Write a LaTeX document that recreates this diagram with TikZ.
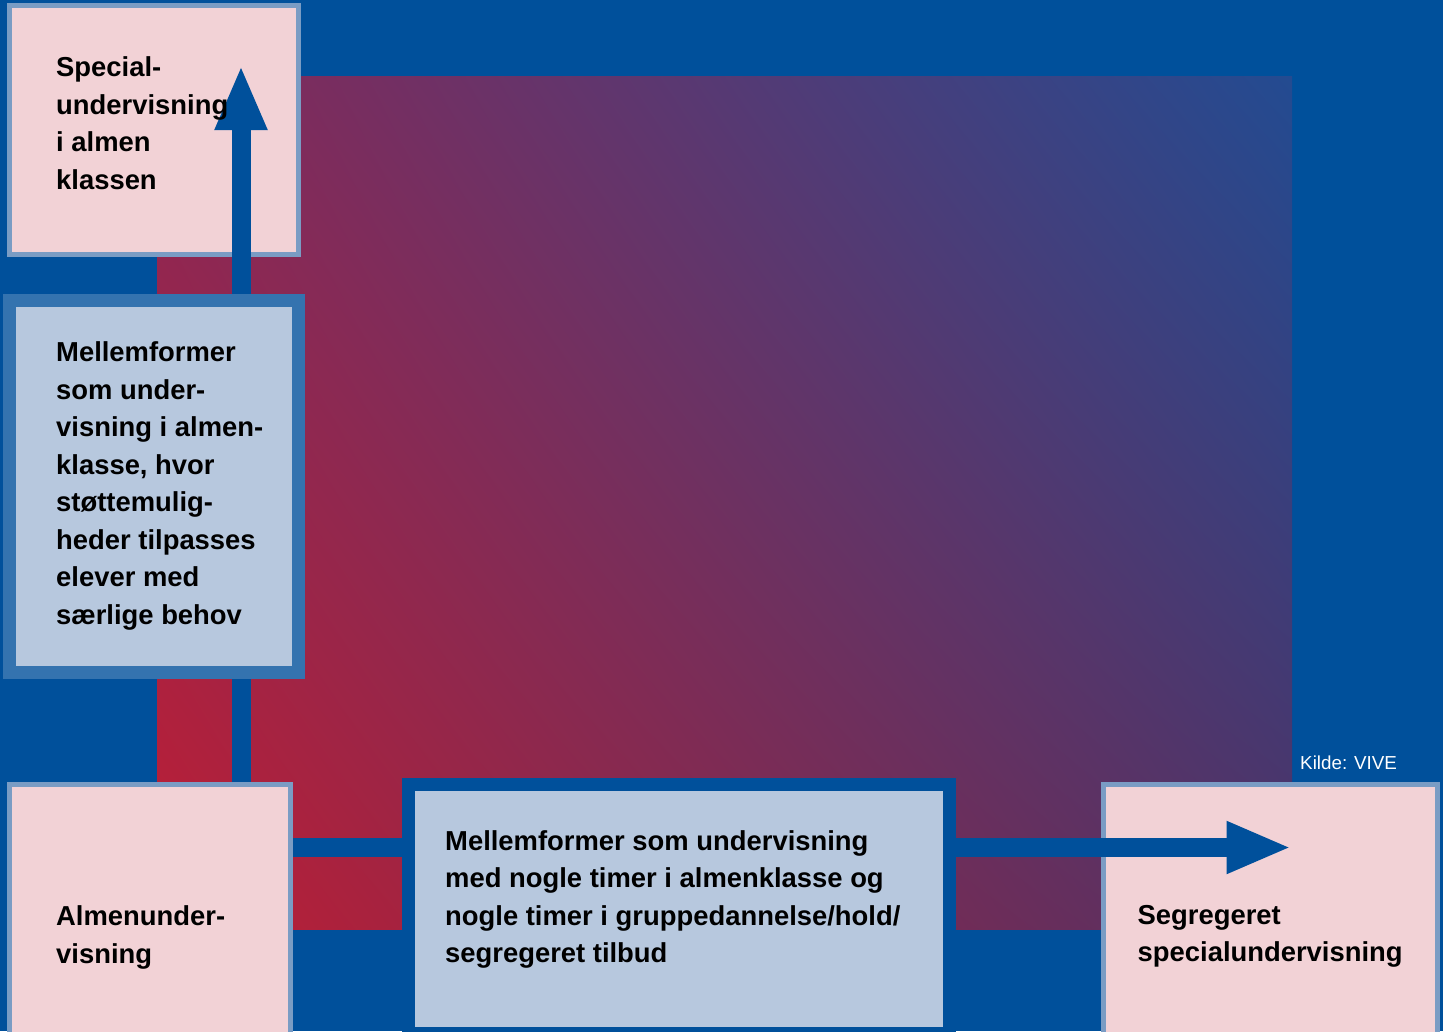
\documentclass[tikz,border=0pt]{standalone}
\usepackage{fontspec}
\setmainfont{Liberation Sans}
\usepackage{xcolor}
\usetikzlibrary{arrows.meta,shadings}

\definecolor{baggrund}{RGB}{0,80,155}
\definecolor{lyserod}{RGB}{242,210,214}
\definecolor{kantlys}{RGB}{122,156,196}
\definecolor{lysblaa}{RGB}{183,200,222}
\definecolor{kantmellem}{RGB}{52,115,175}
\definecolor{gradrod}{RGB}{190,30,52}
\definecolor{gradblaa}{RGB}{35,75,145}
\definecolor{gradvenstre}{RGB}{135,40,87}
\definecolor{gradhojre}{RGB}{80,50,102}

\tikzset{
	kasse/.style={anchor=north west, inner sep=0pt},
	lyskasse/.style={kasse, draw=kantlys, line width=5pt, fill=lyserod},
	blaakasse/.style={kasse, line width=13pt, fill=lysblaa},
	tekst/.style={anchor=north west, inner sep=0pt, align=left, text=black,
		font=\bfseries\fontsize{27.4}{37.5}\selectfont},
	pil/.style={draw=baggrund, line width=19pt, -{Triangle[length=65pt,width=48pt]}}
}

\begin{document}
\begin{tikzpicture}[x=1pt,y=-1pt]
		% Baggrund
		\useasboundingbox (0,0) rectangle (1443,1031);
		\clip (0,0) rectangle (1443,1031);
		\fill[baggrund] (0,0) rectangle (1443,1031);
		\shade[lower left=gradrod, upper right=gradblaa, upper left=gradvenstre, lower right=gradhojre]
			(157,76) rectangle (1292,929);

		% Punkter
		\coordinate (optop) at (241,65);
		\coordinate (hojre) at (1291.5,847.5);

		% Kasser
		\node[lyskasse, minimum width=289pt, minimum height=249pt] (special) at (7,3) {};
		\node[lyskasse, minimum width=281pt, minimum height=300pt] (almen) at (7,782) {};
		\node[lyskasse, minimum width=334pt, minimum height=300pt] (segregeret) at (1101,782) {};

		% Pile
		\draw[pil] (almen.north -| optop) -- (optop);
		\draw[pil] (almen.east |- hojre) -- (hojre);

		% Mellemformer
		\node[blaakasse, draw=kantmellem, minimum width=289pt, minimum height=372pt] (mellemalmen) at (3,294) {};
		\node[blaakasse, draw=baggrund, minimum width=541pt, minimum height=249pt] (mellemhold) at (402,778) {};

		% Tekster
		\node[tekst] (specialtekst) at (56,56.5) {Special-\\undervisning\\i almen\\klassen};
		\node[tekst] (mellemalmentekst) at (56,341.5) {Mellemformer\\som under-\\visning i almen-\\klasse, hvor\\støttemulig-\\heder tilpasses\\elever med\\særlige behov};
		\node[tekst] (almentekst) at (56,905.5) {Almenunder-\\visning};
		\node[tekst] (mellemholdtekst) at (445,830) {Mellemformer som undervisning\\med nogle timer i almenklasse og\\nogle timer i gruppedannelse/hold/\\segregeret tilbud};
		\node[tekst] (segregerettekst) at (1137.5,905) {Segregeret\\specialundervisning};
		\node[anchor=base west, inner sep=0pt, text=white, font=\fontsize{18.8}{22}\selectfont] (kilde) at (1300,769.3) {Kilde: VIVE};
	\end{tikzpicture}
\end{document}
